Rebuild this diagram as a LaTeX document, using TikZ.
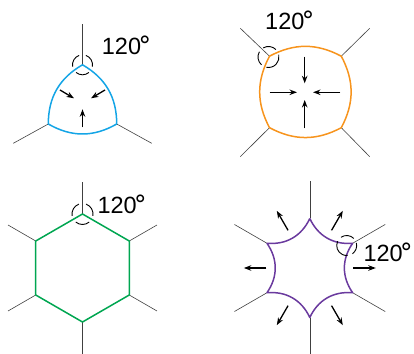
\documentclass[tikz,border=0pt]{standalone}
\usepackage{fontspec}
\setmainfont{Liberation Sans}
\newfontfamily\degf{DejaVu Sans}
\usetikzlibrary{arrows.meta,calc}
\definecolor{cblue}{HTML}{14A5E6}
\definecolor{corange}{HTML}{F7941D}
\definecolor{cgreen}{HTML}{00A651}
\definecolor{cpurple}{HTML}{6A3A9E}
\newcommand\degtext{120\kern-2.5pt{\degf\fontsize{25}{25}\selectfont °}}
\begin{document}
\begin{tikzpicture}[x=1pt,y=1pt,
  spoke/.style={draw=black!75, line width=0.6pt},
  grain/.style={line width=1.5pt, line join=round},
  arr/.style={-{Stealth[length=7.5pt,width=5.5pt]}, line width=1.3pt},
  ang/.style={line width=0.9pt},
  lbl/.style={font=\fontsize{23.5}{24}\selectfont, inner sep=0pt, anchor=base west}]
\useasboundingbox (0,0) rectangle (414,353);

% ---------- Panel 1 : three-sided grain (blue) ----------
\coordinate (aT) at (82.5,288.2);
\coordinate (aL) at (48.3,229);
\coordinate (aR) at (116.7,229);
\coordinate (aTe) at (82.5,329);
\coordinate (aLe) at (13.3,209.7);
\coordinate (aRe) at (151.7,209.7);
\draw[spoke] (aT) -- (aTe);
\draw[spoke] (aL) -- (aLe);
\draw[spoke] (aR) -- (aRe);
\draw[grain, cblue] (aT) to[bend right=30] (aL) to[bend right=30] (aR) to[bend right=30] (aT);
\foreach \a/\b in {110/190,230/310,350/430}
  \draw[ang] ($(aT)+(\a:10)$) arc[start angle=\a,end angle=\b,radius=10];
\coordinate (a1s) at (60,263);   \coordinate (a1e) at (74,254.7);
\coordinate (a2s) at (105,263);  \coordinate (a2e) at (91,254.7);
\coordinate (a3s) at (82.5,225.5); \coordinate (a3e) at (82.5,243.7);
\draw[arr] (a1s) -- (a1e);
\draw[arr] (a2s) -- (a2e);
\draw[arr] (a3s) -- (a3e);
\node[lbl] (t1) at (101.7,298) {\degtext};

% ---------- Panel 2 : four-sided grain (orange) ----------
\coordinate (bTL) at (269.5,296.8);
\coordinate (bTR) at (341.3,296.8);
\coordinate (bBR) at (341.3,225.3);
\coordinate (bBL) at (269.5,225.3);
\coordinate (bTLe) at (240.3,324.7);
\coordinate (bTRe) at (369.7,324.7);
\coordinate (bBLe) at (240.3,196.3);
\coordinate (bBRe) at (369.7,196.3);
\draw[spoke] (bTL) -- (bTLe);
\draw[spoke] (bTR) -- (bTRe);
\draw[spoke] (bBL) -- (bBLe);
\draw[spoke] (bBR) -- (bBRe);
\draw[grain, corange] (bTL) to[bend right=28] (bBL) to[bend right=28] (bBR) to[bend right=28] (bTR) to[bend right=28] (bTL);
\coordinate (bC) at (268.5,296);
\foreach \a/\b in {150/228,258/373,45/120}
  \draw[ang] ($(bC)+(\a:10.5)$) arc[start angle=\a,end angle=\b,radius=10.5];
\coordinate (b1s) at (304.7,296.3); \coordinate (b1e) at (304.7,269.7);
\coordinate (b2s) at (269.7,260.7); \coordinate (b2e) at (297,260.7);
\coordinate (b3s) at (340.3,260.7); \coordinate (b3e) at (313,260.7);
\coordinate (b4s) at (304.7,224.7); \coordinate (b4e) at (304.7,253);
\draw[arr] (b1s) -- (b1e);
\draw[arr] (b2s) -- (b2e);
\draw[arr] (b3s) -- (b3e);
\draw[arr] (b4s) -- (b4e);
\node[lbl] (t2) at (265,323) {\degtext};

% ---------- Panel 3 : six-sided grain (green) ----------
\coordinate (cC) at (82.5,85);
\foreach \i in {0,...,5}{
  \coordinate (cv\i) at ($(cC)+(90+60*\i:54)$);
  \coordinate (ce\i) at ($(cC)+(90+60*\i:86)$);
  \draw[spoke] (cv\i) -- (ce\i);
}
\draw[grain, cgreen] (cv0) -- (cv1) -- (cv2) -- (cv3) -- (cv4) -- (cv5) -- cycle;
\foreach \a/\b in {110/190,230/310,350/430}
  \draw[ang] ($(cv0)+(\a:10.5)$) arc[start angle=\a,end angle=\b,radius=10.5];
\node[lbl] (t3) at (97.3,139) {\degtext};

% ---------- Panel 4 : concave grain (purple) ----------
\coordinate (dC) at (309.8,85);
\foreach \i in {0,...,5}{
  \coordinate (dv\i) at ($(dC)+(90+60*\i:49.5)$);
  \coordinate (de\i) at ($(dC)+(90+60*\i:87)$);
  \draw[spoke] (dv\i) -- (de\i);
}
\draw[grain, cpurple] (dv0) to[bend left=35] (dv1) to[bend left=35] (dv2) to[bend left=35] (dv3) to[bend left=35] (dv4) to[bend left=35] (dv5) to[bend left=35] (dv0);
\foreach \i in {0,...,5}{
  \coordinate (ds\i) at ($(dC)+(60*\i:43.5)$);
  \coordinate (dt\i) at ($(dC)+(60*\i:66)$);
  \draw[arr] (ds\i) -- (dt\i);
}
\coordinate (dA) at (346.7,107.5);
\foreach \a/\b in {45/125,155/275,305/375}
  \draw[ang] ($(dA)+(\a:10)$) arc[start angle=\a,end angle=\b,radius=10];
\node[lbl] (t4) at (363.3,91.3) {\degtext};
\end{tikzpicture}
\end{document}
